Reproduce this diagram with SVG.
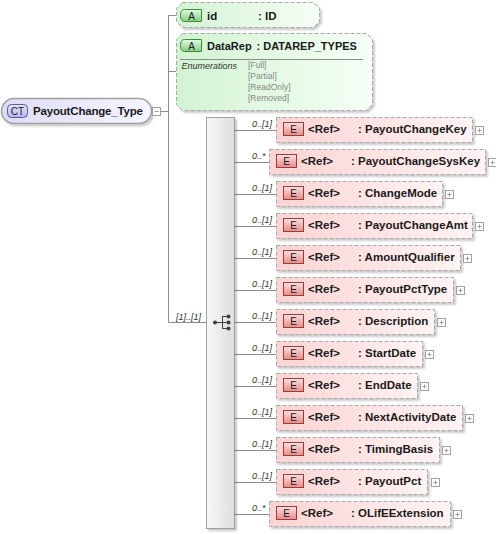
<svg xmlns="http://www.w3.org/2000/svg" width="496" height="534" viewBox="0 0 496 534">
<defs>
<linearGradient id="gE" x1="0" y1="0" x2="1" y2="0"><stop offset="0" stop-color="#fbd3d3"/><stop offset="1" stop-color="#fff3f3"/></linearGradient>
<linearGradient id="gEb" x1="0" y1="0" x2="0" y2="1"><stop offset="0" stop-color="#fde2e2"/><stop offset="1" stop-color="#e88a8a"/></linearGradient>
<linearGradient id="gA" x1="0" y1="0" x2="1" y2="0"><stop offset="0" stop-color="#d2f3d2"/><stop offset="1" stop-color="#f6fff6"/></linearGradient>
<linearGradient id="gAb" x1="0" y1="0" x2="0" y2="1"><stop offset="0" stop-color="#e4fae4"/><stop offset="1" stop-color="#86cc86"/></linearGradient>
<linearGradient id="gCT" x1="0" y1="0" x2="1" y2="0"><stop offset="0" stop-color="#dcdcf6"/><stop offset="1" stop-color="#f6f6ff"/></linearGradient>
<linearGradient id="gCTb" x1="0" y1="0" x2="0" y2="1"><stop offset="0" stop-color="#e6e6fc"/><stop offset="1" stop-color="#b4b4ec"/></linearGradient>
<linearGradient id="gBar" x1="0" y1="0" x2="1" y2="0"><stop offset="0" stop-color="#f8f8f8"/><stop offset="1" stop-color="#dedede"/></linearGradient>
<filter id="sh" x="-5%" y="-10%" width="115%" height="140%"><feDropShadow dx="2" dy="2" stdDeviation="1" flood-color="#000" flood-opacity="0.22"/></filter>
</defs>
<style>
.ln{stroke:#8c8c8c;stroke-width:1;fill:none}
.el{fill:url(#gE);stroke:#a8a8a8;stroke-dasharray:4,2;filter:url(#sh)}
.eb{fill:url(#gEb);stroke:#9a3a3a;stroke-width:1}
.at{fill:url(#gA);stroke:#a8a8a8;stroke-dasharray:4,2;filter:url(#sh)}
.ab{fill:url(#gAb);stroke:#3c8c3c;stroke-width:1}
.t{font-family:"Liberation Sans",Arial,sans-serif;font-size:11.5px;font-weight:bold;fill:#1a1a1a}
.bt{font-family:"Liberation Sans",Arial,sans-serif;font-size:10px;fill:#202020;text-anchor:middle}
.m{font-family:"Liberation Sans",Arial,sans-serif;font-size:9px;font-style:italic;fill:#333}
.en{font-family:"Liberation Sans",Arial,sans-serif;font-size:8.5px;fill:#888}
.pl{fill:#fff;stroke:#a0a0a0;stroke-width:1}
.pc{stroke:#a0a0a0;stroke-width:1}
</style>

<g id="connectors">
<line class="ln" x1="161" y1="111.5" x2="168.5" y2="111.5"/>
<line class="ln" x1="168.5" y1="15.5" x2="168.5" y2="322.5"/>
<line class="ln" x1="168.5" y1="15.5" x2="176" y2="15.5"/>
<line class="ln" x1="168.5" y1="71.5" x2="176" y2="71.5"/>
<line class="ln" x1="168.5" y1="322.5" x2="206" y2="322.5"/>
<line class="ln" x1="235" y1="130.5" x2="276" y2="130.5"/>
<line class="ln" x1="235" y1="162.5" x2="269" y2="162.5"/>
<line class="ln" x1="235" y1="194.5" x2="276" y2="194.5"/>
<line class="ln" x1="235" y1="226.5" x2="276" y2="226.5"/>
<line class="ln" x1="235" y1="258.5" x2="276" y2="258.5"/>
<line class="ln" x1="235" y1="290.5" x2="276" y2="290.5"/>
<line class="ln" x1="235" y1="322.5" x2="276" y2="322.5"/>
<line class="ln" x1="235" y1="354.5" x2="276" y2="354.5"/>
<line class="ln" x1="235" y1="386.5" x2="276" y2="386.5"/>
<line class="ln" x1="235" y1="418.5" x2="276" y2="418.5"/>
<line class="ln" x1="235" y1="450.5" x2="276" y2="450.5"/>
<line class="ln" x1="235" y1="482.5" x2="276" y2="482.5"/>
<line class="ln" x1="235" y1="514.5" x2="269" y2="514.5"/>
<text class="m" x="176" y="320">[1]..[1]</text>
<text class="m" x="252" y="127">0..[1]</text>
<text class="m" x="252" y="159">0..*</text>
<text class="m" x="252" y="191">0..[1]</text>
<text class="m" x="252" y="223">0..[1]</text>
<text class="m" x="252" y="255">0..[1]</text>
<text class="m" x="252" y="287">0..[1]</text>
<text class="m" x="252" y="319">0..[1]</text>
<text class="m" x="252" y="351">0..[1]</text>
<text class="m" x="252" y="383">0..[1]</text>
<text class="m" x="252" y="415">0..[1]</text>
<text class="m" x="252" y="447">0..[1]</text>
<text class="m" x="252" y="479">0..[1]</text>
<text class="m" x="252" y="511">0..*</text>
</g>

<g id="PayoutChange_Type">
<rect x="1.5" y="98.5" width="150" height="25" rx="12.5" fill="url(#gCT)" stroke="#a0a0a0" stroke-width="1.5" filter="url(#sh)"/>
<rect x="7.5" y="104.5" width="20" height="13" rx="4" fill="url(#gCTb)" stroke="#5a5aa0"/>
<text class="bt" x="17.5" y="115" fill="#303070">CT</text>
<text class="t" x="33" y="115" textLength="110">PayoutChange_Type</text>
<rect class="pl" x="152.5" y="107.5" width="8" height="8"/>
<line class="pc" x1="154.5" y1="111.5" x2="158.5" y2="111.5"/>
</g>

<g id="attr-id">
<path class="at" d="M182.5 2.5 H313.5 L319.5 8.5 V21.5 L313.5 27.5 H182.5 L176.5 21.5 V8.5 Z"/>
<path class="ab" d="M184.5 9.5 H201.5 V21.5 H184.5 Q180.5 21.5 180.5 15.5 Q180.5 9.5 184.5 9.5 Z"/>
<text class="bt" x="191.5" y="19.5">A</text>
<text class="t" x="207" y="19.5">id</text>
<text class="t" x="258" y="19.5">: ID</text>
</g>

<g id="attr-DataRep">
<path class="at" d="M182.5 33.5 H366.5 L372.5 39.5 V104.5 L366.5 110.5 H182.5 L176.5 104.5 V39.5 Z"/>
<path class="ab" d="M184.5 39.5 H201.5 V51.5 H184.5 Q180.5 51.5 180.5 45.5 Q180.5 39.5 184.5 39.5 Z"/>
<text class="bt" x="191.5" y="49.5">A</text>
<text class="t" x="207" y="49.5" style="font-size:11px">DataRep</text>
<text class="t" x="256.5" y="49.5" style="font-size:11px">: DATAREP_TYPES</text>
<line x1="180" y1="59.5" x2="363" y2="59.5" stroke="#8c8c8c"/>
<text class="m" x="181.5" y="68.5">Enumerations</text>
<text class="en" x="248" y="68">[Full]</text>
<text class="en" x="248" y="79">[Partial]</text>
<text class="en" x="248" y="90">[ReadOnly]</text>
<text class="en" x="248" y="101">[Removed]</text>
</g>

<g id="sequence">
<rect x="206.5" y="117.5" width="28" height="411" fill="url(#gBar)" stroke="#a0a0a0" filter="url(#sh)"/>
<g fill="#404040" stroke="#404040" stroke-width="1">
<line x1="215" y1="322.5" x2="222.5" y2="322.5"/>
<line x1="222.5" y1="316" x2="222.5" y2="329"/>
<line x1="222.5" y1="316.5" x2="228" y2="316.5"/>
<line x1="222.5" y1="322.5" x2="228" y2="322.5"/>
<line x1="222.5" y1="328.5" x2="228" y2="328.5"/>
<circle cx="215" cy="322.5" r="2" stroke="none"/>
<circle cx="228.5" cy="316.5" r="2" stroke="none"/>
<circle cx="228.5" cy="322.5" r="2" stroke="none"/>
<circle cx="228.5" cy="328.5" r="2" stroke="none"/>
</g>
</g>

<g id="el-PayoutChangeKey" transform="translate(0,0)">
<rect class="el" x="276.5" y="117.5" width="196" height="25"/>
<rect class="eb" x="283.5" y="122.5" width="20" height="13"/><text class="bt" x="293.5" y="133">E</text>
<text class="t" x="308" y="133">&lt;Ref&gt;</text><text class="t" x="358" y="133">: PayoutChangeKey</text>
<rect class="pl" x="475.5" y="126.5" width="8" height="8"/><line class="pc" x1="477.5" y1="130.5" x2="481.5" y2="130.5"/><line class="pc" x1="479.5" y1="128.5" x2="479.5" y2="132.5"/>
</g>
<g id="el-PayoutChangeSysKey" transform="translate(0,32)">
<rect class="el" x="269.5" y="117.5" width="216" height="25"/>
<rect class="eb" x="276.5" y="122.5" width="20" height="13"/><text class="bt" x="286.5" y="133">E</text>
<text class="t" x="301" y="133">&lt;Ref&gt;</text><text class="t" x="351" y="133">: PayoutChangeSysKey</text>
<rect class="pl" x="488.5" y="126.5" width="8" height="8"/><line class="pc" x1="490.5" y1="130.5" x2="494.5" y2="130.5"/><line class="pc" x1="492.5" y1="128.5" x2="492.5" y2="132.5"/>
</g>
<g id="el-ChangeMode" transform="translate(0,64)">
<rect class="el" x="276.5" y="117.5" width="166" height="25"/>
<rect class="eb" x="283.5" y="122.5" width="20" height="13"/><text class="bt" x="293.5" y="133">E</text>
<text class="t" x="308" y="133">&lt;Ref&gt;</text><text class="t" x="358" y="133">: ChangeMode</text>
<rect class="pl" x="445.5" y="126.5" width="8" height="8"/><line class="pc" x1="447.5" y1="130.5" x2="451.5" y2="130.5"/><line class="pc" x1="449.5" y1="128.5" x2="449.5" y2="132.5"/>
</g>
<g id="el-PayoutChangeAmt" transform="translate(0,96)">
<rect class="el" x="276.5" y="117.5" width="196" height="25"/>
<rect class="eb" x="283.5" y="122.5" width="20" height="13"/><text class="bt" x="293.5" y="133">E</text>
<text class="t" x="308" y="133">&lt;Ref&gt;</text><text class="t" x="358" y="133">: PayoutChangeAmt</text>
<rect class="pl" x="475.5" y="126.5" width="8" height="8"/><line class="pc" x1="477.5" y1="130.5" x2="481.5" y2="130.5"/><line class="pc" x1="479.5" y1="128.5" x2="479.5" y2="132.5"/>
</g>
<g id="el-AmountQualifier" transform="translate(0,128)">
<rect class="el" x="276.5" y="117.5" width="184" height="25"/>
<rect class="eb" x="283.5" y="122.5" width="20" height="13"/><text class="bt" x="293.5" y="133">E</text>
<text class="t" x="308" y="133">&lt;Ref&gt;</text><text class="t" x="358" y="133">: AmountQualifier</text>
<rect class="pl" x="463.5" y="126.5" width="8" height="8"/><line class="pc" x1="465.5" y1="130.5" x2="469.5" y2="130.5"/><line class="pc" x1="467.5" y1="128.5" x2="467.5" y2="132.5"/>
</g>
<g id="el-PayoutPctType" transform="translate(0,160)">
<rect class="el" x="276.5" y="117.5" width="177" height="25"/>
<rect class="eb" x="283.5" y="122.5" width="20" height="13"/><text class="bt" x="293.5" y="133">E</text>
<text class="t" x="308" y="133">&lt;Ref&gt;</text><text class="t" x="358" y="133">: PayoutPctType</text>
<rect class="pl" x="456.5" y="126.5" width="8" height="8"/><line class="pc" x1="458.5" y1="130.5" x2="462.5" y2="130.5"/><line class="pc" x1="460.5" y1="128.5" x2="460.5" y2="132.5"/>
</g>
<g id="el-Description" transform="translate(0,192)">
<rect class="el" x="276.5" y="117.5" width="158" height="25"/>
<rect class="eb" x="283.5" y="122.5" width="20" height="13"/><text class="bt" x="293.5" y="133">E</text>
<text class="t" x="308" y="133">&lt;Ref&gt;</text><text class="t" x="358" y="133">: Description</text>
<rect class="pl" x="437.5" y="126.5" width="8" height="8"/><line class="pc" x1="439.5" y1="130.5" x2="443.5" y2="130.5"/><line class="pc" x1="441.5" y1="128.5" x2="441.5" y2="132.5"/>
</g>
<g id="el-StartDate" transform="translate(0,224)">
<rect class="el" x="276.5" y="117.5" width="146" height="25"/>
<rect class="eb" x="283.5" y="122.5" width="20" height="13"/><text class="bt" x="293.5" y="133">E</text>
<text class="t" x="308" y="133">&lt;Ref&gt;</text><text class="t" x="358" y="133">: StartDate</text>
<rect class="pl" x="425.5" y="126.5" width="8" height="8"/><line class="pc" x1="427.5" y1="130.5" x2="431.5" y2="130.5"/><line class="pc" x1="429.5" y1="128.5" x2="429.5" y2="132.5"/>
</g>
<g id="el-EndDate" transform="translate(0,256)">
<rect class="el" x="276.5" y="117.5" width="141" height="25"/>
<rect class="eb" x="283.5" y="122.5" width="20" height="13"/><text class="bt" x="293.5" y="133">E</text>
<text class="t" x="308" y="133">&lt;Ref&gt;</text><text class="t" x="358" y="133">: EndDate</text>
<rect class="pl" x="420.5" y="126.5" width="8" height="8"/><line class="pc" x1="422.5" y1="130.5" x2="426.5" y2="130.5"/><line class="pc" x1="424.5" y1="128.5" x2="424.5" y2="132.5"/>
</g>
<g id="el-NextActivityDate" transform="translate(0,288)">
<rect class="el" x="276.5" y="117.5" width="186" height="25"/>
<rect class="eb" x="283.5" y="122.5" width="20" height="13"/><text class="bt" x="293.5" y="133">E</text>
<text class="t" x="308" y="133">&lt;Ref&gt;</text><text class="t" x="358" y="133">: NextActivityDate</text>
<rect class="pl" x="465.5" y="126.5" width="8" height="8"/><line class="pc" x1="467.5" y1="130.5" x2="471.5" y2="130.5"/><line class="pc" x1="469.5" y1="128.5" x2="469.5" y2="132.5"/>
</g>
<g id="el-TimingBasis" transform="translate(0,320)">
<rect class="el" x="276.5" y="117.5" width="163" height="25"/>
<rect class="eb" x="283.5" y="122.5" width="20" height="13"/><text class="bt" x="293.5" y="133">E</text>
<text class="t" x="308" y="133">&lt;Ref&gt;</text><text class="t" x="358" y="133">: TimingBasis</text>
<rect class="pl" x="442.5" y="126.5" width="8" height="8"/><line class="pc" x1="444.5" y1="130.5" x2="448.5" y2="130.5"/><line class="pc" x1="446.5" y1="128.5" x2="446.5" y2="132.5"/>
</g>
<g id="el-PayoutPct" transform="translate(0,352)">
<rect class="el" x="276.5" y="117.5" width="151" height="25"/>
<rect class="eb" x="283.5" y="122.5" width="20" height="13"/><text class="bt" x="293.5" y="133">E</text>
<text class="t" x="308" y="133">&lt;Ref&gt;</text><text class="t" x="358" y="133">: PayoutPct</text>
<rect class="pl" x="431.5" y="126.5" width="8" height="8"/><line class="pc" x1="433.5" y1="130.5" x2="437.5" y2="130.5"/><line class="pc" x1="435.5" y1="128.5" x2="435.5" y2="132.5"/>
</g>
<g id="el-OLifEExtension" transform="translate(0,384)">
<rect class="el" x="269.5" y="117.5" width="181" height="25"/>
<rect class="eb" x="276.5" y="122.5" width="20" height="13"/><text class="bt" x="286.5" y="133">E</text>
<text class="t" x="301" y="133">&lt;Ref&gt;</text><text class="t" x="351" y="133">: OLifEExtension</text>
<rect class="pl" x="453.5" y="126.5" width="8" height="8"/><line class="pc" x1="455.5" y1="130.5" x2="459.5" y2="130.5"/><line class="pc" x1="457.5" y1="128.5" x2="457.5" y2="132.5"/>
</g>
</svg>
